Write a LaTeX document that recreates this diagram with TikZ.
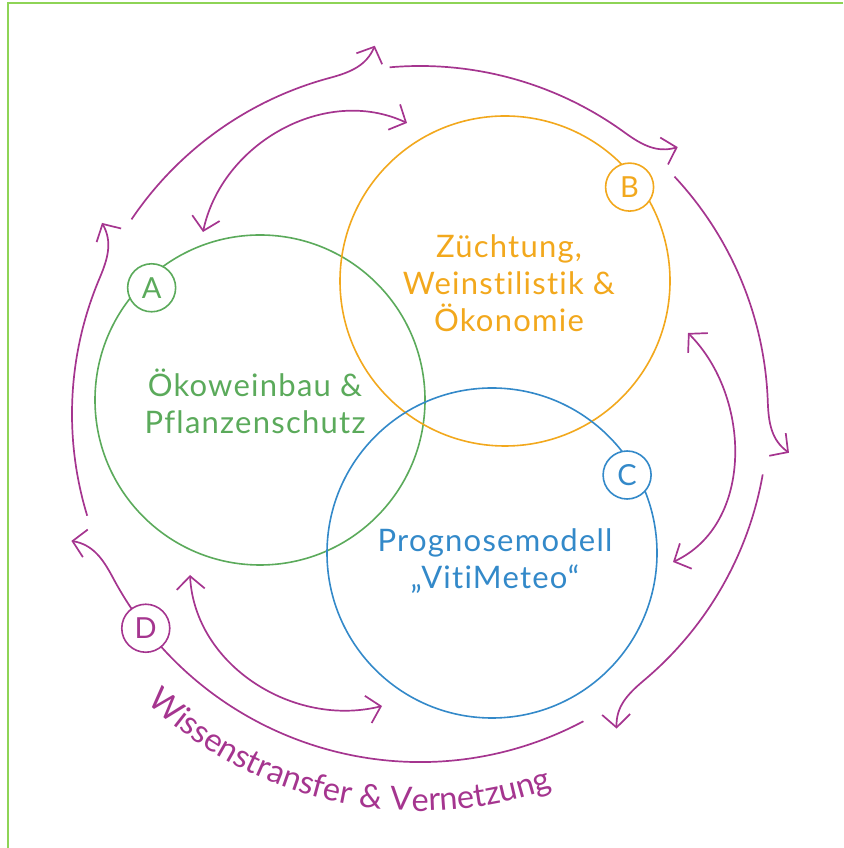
\documentclass[tikz,border=0pt]{standalone}
\usepackage{fontspec}
\setmainfont{Lato}[Ligatures=CommonOff, LetterSpace=4]
\newfontfamily\arcfont{Lato}[Ligatures=CommonOff]
\usetikzlibrary{arrows.meta,decorations.text}
\definecolor{framecol}{HTML}{8ED456}
\definecolor{greencol}{HTML}{5BAA5B}
\definecolor{orangecol}{HTML}{F2A81D}
\definecolor{bluecol}{HTML}{3389C9}
\definecolor{ringcol}{HTML}{A5358F}
\tikzset{
  ring/.style={ringcol, line width=1.7pt, -{Straight Barb[length=13pt,width=28pt]}},
  link/.style={ringcol, line width=1.7pt,
    {Straight Barb[length=13pt,width=28pt]}-{Straight Barb[length=13pt,width=28pt]}},
  lbl/.style={circle, draw, fill=white, line width=1.6pt, minimum size=48pt,
    inner sep=0pt, font=\fontsize{29}{30}\selectfont},
  field/.style={align=center, font=\fontsize{31}{37}\selectfont}
}
\begin{document}
\begin{tikzpicture}[x=1pt, y=1pt]
\useasboundingbox (0,0) rectangle (843,848);

% === FRAME ===
\draw[framecol, line width=2.5pt] (8,0) -- (8,845) -- (843,845);

% centres
\coordinate (O) at (420,434);
\coordinate (cA) at (260,448);
\coordinate (cB) at (505,567);
\coordinate (cC) at (492,295);

% === OUTER RING (D) ===
\foreach \s/\t [evaluate=\t as \te using \t+8,
                evaluate=\t as \angout using \t-82,
                evaluate=\t as \angin using \t+150]
    in {146/97, 95/46, 43/-6, -10/-58, -62/-160, 197/149}{
  \draw[ring] ([shift={(\s:348pt)}]O) arc[start angle=\s, end angle=\te, radius=348pt]
    to[out=\angout, in=\angin] ([shift={(\t:371pt)}]O);
}

% === LINKS BETWEEN FIELDS ===
\coordinate (ab1) at (203,616);
\coordinate (ab2) at (407,725);
\coordinate (bc1) at (688,515);
\coordinate (bc2) at (673,286);
\coordinate (ac1) at (190,273);
\coordinate (ac2) at (382,142);
\draw[link] (ab1) to[out=78, in=155] (ab2);
\draw[link] (bc1) to[out=-45, in=25] (bc2);
\draw[link] (ac1) to[out=-87, in=194] (ac2);

% === FIELDS A, B, C ===
\draw[greencol, line width=1.6pt] (cA) circle (165pt);
\draw[orangecol, line width=1.6pt] (cB) circle (165pt);
\draw[bluecol, line width=1.6pt] (cC) circle (165pt);

\node[lbl, draw=greencol, text=greencol] (A) at ([shift={(134:156pt)}]cA) {A};
\node[lbl, draw=orangecol, text=orangecol] (B) at ([shift={(37:156pt)}]cB) {B};
\node[lbl, draw=bluecol, text=bluecol] (C) at ([shift={(30:156pt)}]cC) {C};
\node[lbl, draw=ringcol, text=ringcol] (D) at ([shift={(-142:348pt)}]O) {D};

\node[field, text=greencol] (tA) at (255,447) {Ökoweinbau \&\\Pflanzenschutz};
\node[field, text=orangecol] (tB) at (509,565) {Züchtung,\\Weinstilistik \&\\Ökonomie};
\node[field, text=bluecol] (tC) at (495,287) {Prognosemodell\\„VitiMeteo“};

% ring caption
\begin{scope}
  \arcfont\fontsize{32.5}{34}\selectfont
  \path[decorate, decoration={text along path, text align=center, text color=ringcol,
      text={Wissenstransfer {\&} Vernetzung}}]
    ([shift={(-138:397pt)}]O) arc[start angle=-138, end angle=-66, radius=397pt];
\end{scope}

\end{tikzpicture}
\end{document}
